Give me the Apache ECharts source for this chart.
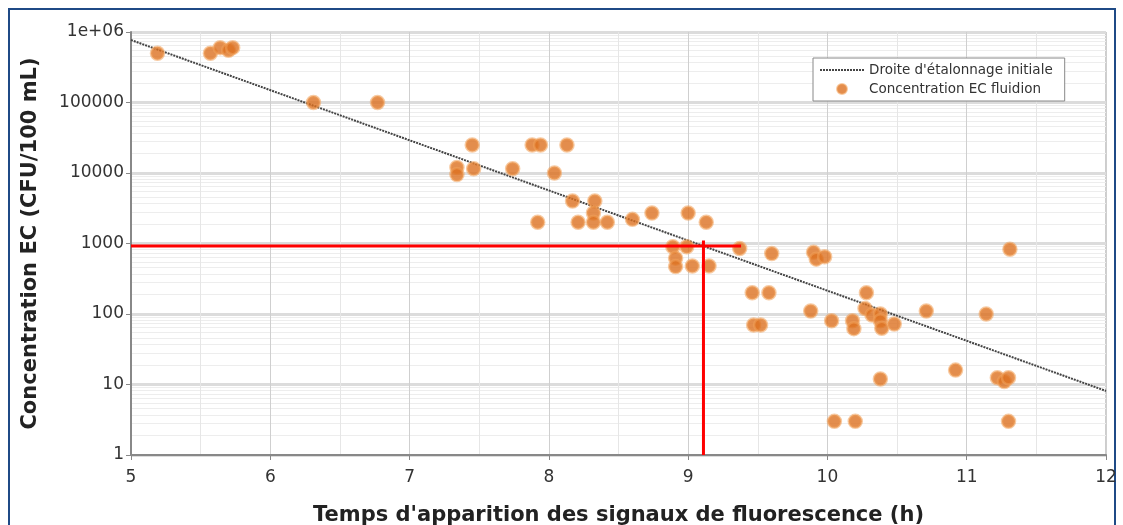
<!DOCTYPE html>
<html><head><meta charset="utf-8">
<script src="https://cdn.jsdelivr.net/npm/echarts@6/dist/echarts.min.js"></script>
<style>
html,body{margin:0;padding:0;background:#fff;}
#c{width:1123px;height:525px;}
</style></head>
<body><div id="c"></div>
<script>
// Measured points: time (h) and concentration (CFU/100 mL)
const pointX = [5.19,5.57,5.64,5.70,5.73,6.31,6.77,
  7.34,7.34,7.45,7.46,7.74,7.88,7.94,8.13,8.04,
  7.92,8.17,8.33,8.32,8.21,8.32,8.42,8.60,8.74,9.00,9.13,
  8.89,8.99,8.91,8.91,9.03,9.15,9.37,9.60,9.90,9.92,9.98,
  9.46,9.58,9.88,9.47,9.52,10.03,10.18,10.19,
  10.28,10.27,10.32,10.38,10.38,10.39,10.48,10.71,11.14,11.31,
  10.38,10.92,11.22,11.27,11.30,10.05,10.20,11.30];
const pointY = [500000,500000,600000,550000,600000,100000,100000,
  12000,9500,25000,11500,11500,25000,25000,25000,10000,
  2000,4000,4000,2700,2000,2000,2000,2200,2700,2700,2000,
  900,900,620,470,480,480,850,720,750,600,650,
  200,200,110,70,70,80,80,62,
  200,120,97,100,80,63,72,110,100,830,
  12,16,12.5,11,12.5,3,3,3];
// Initial calibration line (end points)
const lineX = [5, 12];
const lineY = [770000, 8.1];
// Red reading lines
const readX = 9.11, readY = 920, readXEnd = 9.38, readYTop = 1100;
const xTicks = [5,6,7,8,9,10,11,12];
const yTicks = [1,10,100,1000,10000,100000,1000000];

const chart = echarts.init(document.getElementById('c'), null, {renderer:'canvas'});
const scatterData = pointX.map((x,i)=>[x,pointY[i]]);
const lineData = lineX.map((x,i)=>[x,lineY[i]]);
const font = "'DejaVu Sans', sans-serif";
const S1 = "Droite d'étalonnage initiale", S2 = 'Concentration EC fluidion';
chart.setOption({
  animation:false,
  backgroundColor:'#fff',
  graphic:[{type:'rect',shape:{x:9,y:9,width:1106,height:530},style:{fill:'none',stroke:'#1f4a86',lineWidth:2},z:-1}],
  grid:{left:131,right:17,top:32,bottom:70,show:true,borderColor:'#9a9a9a',borderWidth:1,backgroundColor:'#fff',
    containLabel:false,outerBoundsMode:'none'},
  legend:{
    show:true,left:813,top:58,orient:'vertical',itemGap:5,itemWidth:44,itemHeight:10,
    backgroundColor:'#fff',borderColor:'#888',borderWidth:1,padding:[5,12,5,6],
    textStyle:{fontFamily:font,fontSize:13.5,color:'#333'},
    data:[{name:S1,itemStyle:{color:'transparent',borderWidth:0,opacity:0}},S2]
  },
  xAxis:{type:'value',min:5,max:12,interval:1,
    name:"Temps d'apparition des signaux de fluorescence (h)",nameLocation:'middle',nameGap:50,
    nameTextStyle:{fontFamily:font,fontWeight:'bold',fontSize:21,color:'#222'},
    axisLine:{show:true,lineStyle:{color:'#888',width:2}},
    axisTick:{show:true,length:5,lineStyle:{color:'#888'}},
    minorTick:{show:false,splitNumber:2},
    axisLabel:{fontFamily:font,fontSize:17,color:'#333',margin:14},
    splitLine:{show:true,lineStyle:{color:'#cfcfcf'}},
    minorSplitLine:{show:true,lineStyle:{color:'#e6e6e6'}}
  },
  yAxis:{type:'log',logBase:10,min:1,max:1000000,
    name:'Concentration EC (CFU/100 mL)',nameLocation:'middle',nameGap:90,nameRotate:90,
    nameTextStyle:{fontFamily:font,fontWeight:'bold',fontSize:21,color:'#222'},
    axisLine:{show:true,lineStyle:{color:'#888',width:2}},
    axisTick:{show:true,length:5,lineStyle:{color:'#888'}},
    axisLabel:{fontFamily:font,fontSize:17,color:'#333',margin:7,
      formatter:v=>{const r=yTicks.find(t=>Math.abs(t-v)/t<1e-6); if(r===undefined)return ''; return r===1000000?'1e+06':String(r);}},
    splitLine:{show:true,lineStyle:{color:'#dcdcdc',width:3}},
    minorTick:{show:false,splitNumber:10},
    minorSplitLine:{show:true,lineStyle:{color:'#ededed'}}
  },
  series:[
    {name:S1,type:'line',data:lineData,symbol:'none',
      itemStyle:{color:'#444'},
      lineStyle:{color:'#444',width:2,type:[2,1]},z:3},
    {name:S2,type:'scatter',data:scatterData,symbolSize:13,
      itemStyle:{color:'#dc7020',borderColor:'rgba(240,160,90,0.7)',borderWidth:2.5},z:4},
    {name:'readH',type:'line',data:[[5,readY],[readXEnd,readY]],symbol:'none',lineStyle:{color:'#ff0000',width:3},z:5},
    {name:'readV',type:'line',data:[[readX,1],[readX,readYTop]],symbol:'none',lineStyle:{color:'#ff0000',width:3},z:5}
  ]
});
</script></body></html>
